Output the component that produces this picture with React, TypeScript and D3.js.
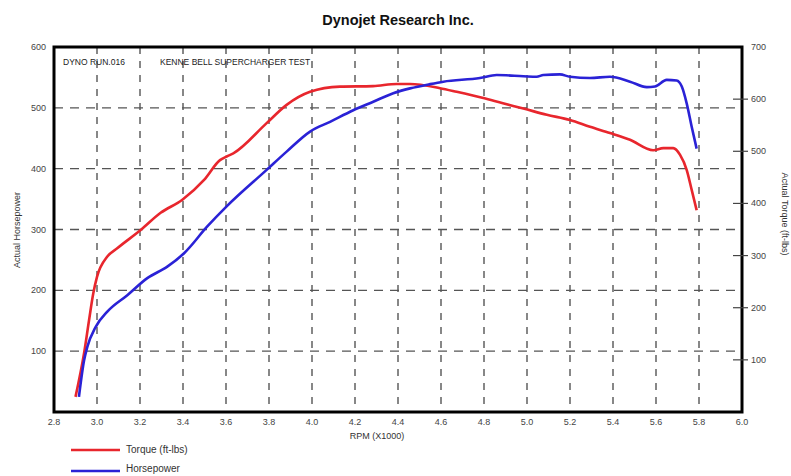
import React from "react";
import * as d3 from "d3";

// engine speed (x1000 rpm) and readings taken off the dyno sheet
const torqueRpm = [2.9, 2.94, 2.963, 2.983, 3.0, 3.048, 3.094, 3.203, 3.296, 3.397, 3.498, 3.572, 3.603, 3.634, 3.789, 3.882, 3.991, 4.13, 4.284, 4.394, 4.456, 4.595, 4.673, 4.797, 4.888, 4.983, 5.092, 5.2, 5.293, 5.386, 5.479, 5.587, 5.634, 5.68, 5.712, 5.743, 5.766, 5.789];
const torqueFtLbs = [29, 113, 176, 228, 259, 298, 314, 349, 382, 407, 445, 483, 490, 496, 554, 589, 614, 624, 625, 629, 629, 621, 614, 602, 592, 582, 570, 560, 547, 535, 522, 502, 506, 506, 493, 464, 426, 387];

const hpRpm = [2.916, 2.94, 2.955, 2.994, 3.048, 3.141, 3.234, 3.327, 3.405, 3.513, 3.603, 3.789, 3.882, 3.991, 4.084, 4.192, 4.285, 4.378, 4.456, 4.549, 4.611, 4.781, 4.859, 4.983, 5.045, 5.076, 5.153, 5.2, 5.293, 5.386, 5.479, 5.557, 5.595, 5.65, 5.696, 5.72, 5.743, 5.766, 5.789];
const horsepower = [25, 85, 107, 140, 165, 192, 220, 239, 261, 305, 338, 398, 428, 461, 477, 496, 510, 524, 532, 539, 543, 549, 554, 552, 551, 554, 555, 551, 549, 551, 543, 534, 535, 546, 545, 535, 507, 469, 433];

const rpmTicks = [2.8, 3.0, 3.2, 3.4, 3.6, 3.8, 4.0, 4.2, 4.4, 4.6, 4.8, 5.0, 5.2, 5.4, 5.6, 5.8, 6.0];
const hpTicks = [100, 200, 300, 400, 500, 600];
const torqueTicks = [100, 200, 300, 400, 500, 600, 700];

const W = 791;
const H = 476;
const left = 54;
const right = 742;
const top = 47;
const bottom = 412;
const font = "'Liberation Sans', Arial, sans-serif";

export default function App() {
  const x = d3.scaleLinear().domain([2.8, 6.0]).range([left, right]);
  const yHp = d3.scaleLinear().domain([0, 600]).range([bottom, top]);
  const yTq = d3.scaleLinear().domain([0, 700]).range([bottom, top]);

  const tqLine = d3
    .line<number>()
    .x((d, i) => x(torqueRpm[i]))
    .y((d) => yTq(d))
    .curve(d3.curveMonotoneX);
  const hpLine = d3
    .line<number>()
    .x((d, i) => x(hpRpm[i]))
    .y((d) => yHp(d))
    .curve(d3.curveMonotoneX);

  const grid = "#555";

  return (
    <svg width={W} height={H} style={{ position: "absolute", left: 0, top: 0 }}>
      <rect width={W} height={H} fill="#fff" />
      <text x={398} y={25} textAnchor="middle" fontFamily={font} fontWeight="bold" fontSize={14.5} fill="#111">
        Dynojet Research Inc.
      </text>

      {/* grid */}
      {rpmTicks.slice(1, -1).map((t) => (
        <line key={"v" + t} x1={x(t)} x2={x(t)} y1={top} y2={bottom} stroke={grid} strokeWidth={1.4} strokeDasharray="7,7" />
      ))}
      {hpTicks.slice(0, -1).map((t) => (
        <line key={"h" + t} x1={left} x2={right} y1={yHp(t)} y2={yHp(t)} stroke={grid} strokeWidth={1.4} strokeDasharray="9,7" />
      ))}

      <text x={63} y={65} fontFamily={font} fontSize={8.5} fill="#222">DYNO RUN.016</text>
      <text x={160} y={65} fontFamily={font} fontSize={8.5} fill="#222">KENNE BELL SUPERCHARGER TEST</text>

      {/* curves */}
      <path d={tqLine(torqueFtLbs) || ""} fill="none" stroke="#e8262d" strokeWidth={2.6} strokeLinejoin="round" />
      <path d={hpLine(horsepower) || ""} fill="none" stroke="#2a22d6" strokeWidth={2.6} strokeLinejoin="round" />

      {/* frame */}
      <rect x={left} y={top} width={right - left} height={bottom - top} fill="none" stroke="#000" strokeWidth={3} />

      {/* left axis */}
      {hpTicks.map((t) => (
        <text key={"l" + t} x={46} y={yHp(t) + 3} textAnchor="end" fontFamily={font} fontSize={9} fill="#444">
          {t}
        </text>
      ))}
      <text transform={`translate(20,230) rotate(-90)`} textAnchor="middle" fontFamily={font} fontSize={9} fill="#333">
        Actual Horsepower
      </text>

      {/* right axis */}
      {torqueTicks.map((t) => (
        <g key={"r" + t}>
          {t < 700 && <line x1={right - 9} x2={right + 6} y1={yTq(t)} y2={yTq(t)} stroke="#444" strokeWidth={1.2} />}
          <text x={751} y={yTq(t) + 3} fontFamily={font} fontSize={9} fill="#444">
            {t}
          </text>
        </g>
      ))}
      <text transform={`translate(782,214) rotate(90)`} textAnchor="middle" fontFamily={font} fontSize={9} fill="#333">
        Actual Torque (ft-lbs)
      </text>

      {/* bottom axis */}
      {rpmTicks.map((t) => (
        <text key={"b" + t} x={x(t)} y={425} textAnchor="middle" fontFamily={font} fontSize={9} fill="#444">
          {t.toFixed(1)}
        </text>
      ))}
      <text x={377} y={439} textAnchor="middle" fontFamily={font} fontSize={9} fill="#333">
        RPM (X1000)
      </text>

      {/* legend */}
      <line x1={71} x2={120} y1={450} y2={450} stroke="#e8262d" strokeWidth={2.6} />
      <text x={126} y={453} fontFamily={font} fontSize={10} fill="#333">Torque (ft-lbs)</text>
      <line x1={71} x2={120} y1={471} y2={471} stroke="#2a22d6" strokeWidth={2.6} />
      <text x={126} y={472} fontFamily={font} fontSize={10} fill="#333">Horsepower</text>
    </svg>
  );
}
